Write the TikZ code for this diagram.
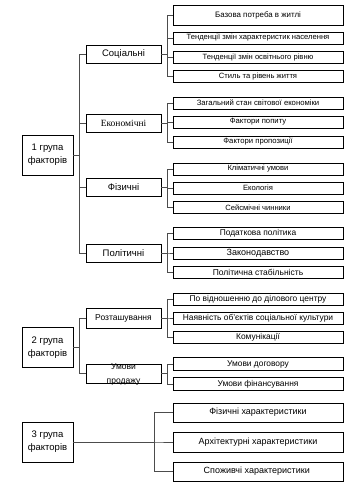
\documentclass[tikz,border=0pt]{standalone}
\usepackage{fontspec}
\setmainfont{Liberation Sans}
\newfontfamily\timesfont{Liberation Serif}
\begin{document}
\begin{tikzpicture}[
            x=1pt,
            y=-1pt,
            group box/.style={draw, line width=0.8pt, minimum width=51pt, minimum height=40pt, inner sep=0pt, align=center, font=\fontsize{9.5}{13}\selectfont},
            factor box/.style={draw, line width=0.8pt, minimum width=75pt, minimum height=18pt, inner sep=0pt, align=center, font=\fontsize{9.5}{11}\selectfont},
            item box/.style={draw, line width=0.8pt, minimum width=170pt, minimum height=12pt, inner sep=0pt, align=center},
            link/.style={draw=black!70, line width=0.9pt}
        ]
        \useasboundingbox (0,0) rectangle (350,484);
        % groups of factors
        \node[group box] (g1) at (47.5,155) {1 група\\факторів};
        \node[group box] (g2) at (47.5,347.5) {2 група\\факторів};
        \node[group box] (g3) at (47.5,442) {3 група\\факторів};
        % factors
        \node[factor box] (soc) at (123.5,54.5) {Соціальні};
        \node[factor box, font=\timesfont\fontsize{9.5}{11}\selectfont] (eco) at (123.5,123) {Економічні};
        \node[factor box] (phy) at (123.5,187.5) {Фізичні};
        \node[factor box] (pol) at (123.5,253) {Політичні};
        \node[factor box, minimum height=20pt, font=\fontsize{8.5}{10}\selectfont] (loc) at (123.5,318) {Розташування};
        \node[factor box, minimum height=19pt] (sale) at (123.5,373.5) {};
        \node[font=\fontsize{8.5}{14}\selectfont, align=center] (saletext) at (123.5,374) {Умови\\продажу};
        % items
        \foreach \name/\y/\h/\fs/\txt in {
                s1/15/20/7.9/Базова потреба в житлі,
                s2/38/12/7.6/Тенденції змін характеристик населення,
                s3/57.5/12/7.6/Тенденції змін освітнього рівню,
                s4/76.5/12/7.6/Стиль та рівень життя,
                e1/103/12/7.7/Загальний стан світової економіки,
                e2/122/12/7.7/Фактори попиту,
                e3/142/12/7.7/Фактори пропозиції,
                p1/169/12/7.6/Кліматичні умови,
                p2/188/12/7.6/Екологія,
                p3/207.5/12/7.6/Сейсмічні чинники,
                l1/233.5/12/8.4/Податкова політика,
                l2/253/12/9/Законодавство,
                l3/272/12/8.5/Політична стабільність,
                r1/299/12/8.4/По відношенню до ділового центру,
                r2/318/12/8.4/Наявність об’єктів соціальної культури,
                r3/337/12/8.4/Комунікації,
                u1/364/13/8.4/Умови договору,
                u2/384/13/8.4/Умови фінансування,
                t1/412.5/19/9/Фізичні характеристики,
                t2/442/20/9/Архітектурні характеристики,
                t3/471.5/19/9/Споживчі характеристики
            } {
                \node[item box, minimum height=\h, font=\fontsize{\fs}{\fs}\selectfont] (\name) at (258,\y) {\txt};
            }
        % connectors
        \foreach \from/\to in {g1/soc, g1/eco, g1/phy, g1/pol, g2/loc, g2/sale,
                soc/s1, soc/s2, soc/s3, soc/s4, eco/e1, eco/e2, eco/e3,
                phy/p1, phy/p2, phy/p3, pol/l1, pol/l2, pol/l3,
                loc/r1, loc/r2, loc/r3, sale/u1, sale/u2} {
                \draw[link] (\from.east) -- ++(6,0) |- (\to.west);
            }
        \foreach \to in {t1, t2, t3} {
                \draw[link] (g3.east) -- ++(81,0) |- (\to.west);
            }
    \end{tikzpicture}
\end{document}
